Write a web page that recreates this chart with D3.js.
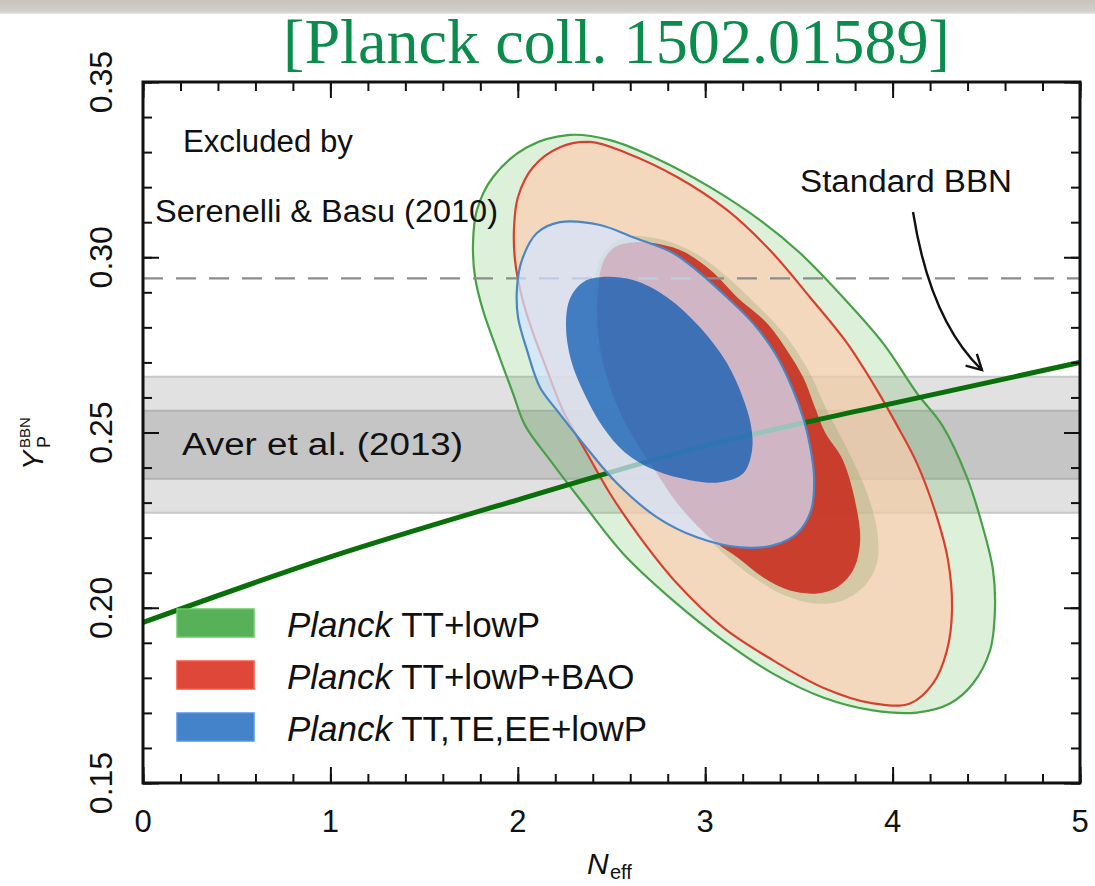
<!DOCTYPE html>
<html><head><meta charset="utf-8">
<script src="https://cdn.jsdelivr.net/npm/d3@7"></script>
<style>body{margin:0;background:#fff;} svg{display:block;}</style>
</head><body><svg id="c" width="1095" height="886"></svg>
<script>
// ---------------- data ----------------
const xDomain = [0, 5];
const yDomain = [0.15, 0.35];
const xTickValues = [0, 1, 2, 3, 4, 5];
const xTickLabels = ["0", "1", "2", "3", "4", "5"];
const yTickValues = [0.15, 0.20, 0.25, 0.30, 0.35];
const yTickLabels = ["0.15", "0.20", "0.25", "0.30", "0.35"];

// Aver et al. (2013): 1 sigma and 2 sigma bands
const averBand2 = [0.2271, 0.2659];
const averBand1 = [0.2368, 0.2562];
// Serenelli & Basu (2010) upper bound
const serenelliY = 0.294;

// Standard BBN prediction
const bbnN = [0, 1, 2, 3, 4, 5];
const bbnY = [0.1958, 0.2145, 0.2308, 0.2462, 0.2583, 0.2700];

// contours [Neff, Yp]
const green95 = [[2.279,0.3349],[2.492,0.3334],[2.759,0.3277],[3.026,0.3200],[3.292,0.3106],[3.506,0.3012],[3.735,0.2886],[3.949,0.2755],[4.130,0.2612],[4.264,0.2521],[4.397,0.2372],[4.482,0.2229],[4.536,0.2107],[4.546,0.1992],[4.520,0.1878],[4.429,0.1784],[4.306,0.1727],[4.130,0.1701],[3.895,0.1707],[3.629,0.1744],[3.362,0.1812],[3.095,0.1907],[2.828,0.2021],[2.561,0.2155],[2.348,0.2298],[2.172,0.2421],[2.038,0.2521],[1.974,0.2612],[1.889,0.2735],[1.814,0.2849],[1.772,0.2943],[1.761,0.3040],[1.782,0.3135],[1.868,0.3229],[2.049,0.3314]];
const green68 = [[2.470,0.3020],[2.572,0.3058],[2.732,0.3055],[2.919,0.3020],[3.106,0.2949],[3.266,0.2869],[3.426,0.2778],[3.549,0.2678],[3.650,0.2563],[3.762,0.2449],[3.858,0.2335],[3.917,0.2221],[3.917,0.2129],[3.853,0.2064],[3.735,0.2021],[3.586,0.2012],[3.426,0.2035],[3.266,0.2084],[3.116,0.2146],[2.988,0.2215],[2.866,0.2292],[2.748,0.2383],[2.631,0.2478],[2.535,0.2578],[2.460,0.2683],[2.417,0.2792],[2.405,0.2892],[2.425,0.2970]];
const red95 = [[2.385,0.3329],[2.583,0.3297],[2.850,0.3229],[3.116,0.3135],[3.346,0.3020],[3.559,0.2886],[3.757,0.2755],[3.917,0.2621],[4.023,0.2521],[4.130,0.2412],[4.237,0.2258],[4.296,0.2135],[4.317,0.1992],[4.290,0.1878],[4.216,0.1784],[4.093,0.1727],[3.895,0.1727],[3.629,0.1772],[3.362,0.1850],[3.095,0.1944],[2.850,0.2069],[2.652,0.2201],[2.492,0.2326],[2.369,0.2441],[2.241,0.2563],[2.156,0.2678],[2.076,0.2792],[2.022,0.2886],[1.985,0.2992],[1.980,0.3086],[2.001,0.3172],[2.081,0.3257],[2.225,0.3314]];
const red68 = [[2.519,0.3029],[2.625,0.3043],[2.759,0.3037],[2.892,0.3014],[3.042,0.2957],[3.170,0.2886],[3.330,0.2812],[3.436,0.2735],[3.522,0.2658],[3.580,0.2580],[3.640,0.2500],[3.735,0.2421],[3.810,0.2278],[3.826,0.2184],[3.789,0.2107],[3.703,0.2058],[3.597,0.2041],[3.452,0.2049],[3.308,0.2087],[3.170,0.2144],[3.063,0.2184],[2.956,0.2235],[2.839,0.2306],[2.732,0.2392],[2.625,0.2478],[2.529,0.2578],[2.465,0.2678],[2.430,0.2778],[2.425,0.2880],[2.455,0.2986]];
const blue95 = [[2.225,0.3100],[2.439,0.3092],[2.615,0.3057],[2.828,0.3012],[2.972,0.2955],[3.116,0.2886],[3.255,0.2812],[3.373,0.2726],[3.463,0.2629],[3.527,0.2535],[3.559,0.2463],[3.581,0.2372],[3.565,0.2278],[3.490,0.2212],[3.362,0.2178],[3.186,0.2172],[2.956,0.2201],[2.743,0.2258],[2.529,0.2355],[2.348,0.2469],[2.209,0.2563],[2.118,0.2629],[2.049,0.2735],[2.001,0.2829],[1.996,0.2915],[2.022,0.2992],[2.102,0.3069]];
const blue68 = [[2.439,0.2943],[2.615,0.2935],[2.796,0.2886],[2.972,0.2800],[3.116,0.2698],[3.202,0.2598],[3.244,0.2521],[3.250,0.2449],[3.202,0.2383],[3.079,0.2358],[2.919,0.2364],[2.732,0.2392],[2.572,0.2443],[2.455,0.2515],[2.359,0.2606],[2.284,0.2706],[2.257,0.2806],[2.279,0.2883],[2.348,0.2929]];

// legend
const legendItalic = ["Planck", "Planck", "Planck"];
const legendRest = [" TT+lowP", " TT+lowP+BAO", " TT,TE,EE+lowP"];
const legendColors = ["#58b058", "#df4838", "#4483c8"];

// annotations (text, Neff, Yp)
const annoText = ["Excluded by", "Serenelli & Basu (2010)", "Standard BBN", "Aver et al. (2013)"];
const annoN = [0.213, 0.064, 3.506, 0.208];
const annoY = [0.3300, 0.3100, 0.3186, 0.2435];
const annoWidth = [170, 343, 212, 281];
// arrow from label to BBN line: start, control, end
const arrowPts = [[4.109, 0.3129], [4.200, 0.2820], [4.477, 0.2678]];

const titleText = "[Planck coll. 1502.01589]";

// ---------------- drawing ----------------
const W = 1095, H = 886;
const L = 143, R = 1080, T = 82, B = 783;
const svg = d3.select("#c");
const x = d3.scaleLinear(xDomain, [L, R]);
const y = d3.scaleLinear(yDomain, [B, T]);

const defs = svg.append("defs");
const grad = defs.append("linearGradient").attr("id", "topg").attr("x1", 0).attr("y1", 0).attr("x2", 0).attr("y2", 1);
grad.append("stop").attr("offset", "0%").attr("stop-color", "#c7c3bf");
grad.append("stop").attr("offset", "80%").attr("stop-color", "#d2cfcb");
grad.append("stop").attr("offset", "100%").attr("stop-color", "#e9e8e6");
defs.append("clipPath").attr("id", "plotclip").append("rect")
  .attr("x", L).attr("y", T).attr("width", R - L).attr("height", B - T);

svg.append("rect").attr("width", W).attr("height", H).attr("fill", "#ffffff");
svg.append("rect").attr("width", W).attr("height", 14).attr("fill", "url(#topg)");

// title
svg.append("text").attr("x", 283).attr("y", 63)
  .attr("font-family", "Liberation Serif, serif").attr("font-size", 64)
  .attr("fill", "#0b8c4c").attr("textLength", 667).attr("lengthAdjust", "spacingAndGlyphs")
  .text(titleText);

const plot = svg.append("g").attr("clip-path", "url(#plotclip)");

// Aver bands
plot.append("rect").attr("x", x(0)).attr("width", x(5) - x(0))
  .attr("y", y(averBand2[1])).attr("height", y(averBand2[0]) - y(averBand2[1]))
  .attr("fill", "#e1e1e1").attr("stroke", "#c8c8c8").attr("stroke-width", 2);
plot.append("rect").attr("x", x(0)).attr("width", x(5) - x(0))
  .attr("y", y(averBand1[1])).attr("height", y(averBand1[0]) - y(averBand1[1]))
  .attr("fill", "#c5c5c5").attr("stroke", "#b3b3b3").attr("stroke-width", 2);

const contour = d3.line().x(d => x(d[0])).y(d => y(d[1])).curve(d3.curveCatmullRomClosed.alpha(0.5));

plot.append("path").attr("d", contour(green95)).attr("fill", "rgb(80,180,70)").attr("fill-opacity", 0.2);
plot.append("path").attr("d", contour(red95)).attr("fill", "rgb(255,205,175)").attr("fill-opacity", 0.68);
plot.append("path").attr("d", contour(green68)).attr("fill", "rgb(120,150,90)").attr("fill-opacity", 0.25);
plot.append("path").attr("d", contour(red68)).attr("fill", "rgb(200,50,35)").attr("fill-opacity", 0.92);
plot.append("path").attr("d", contour(green95)).attr("fill", "none").attr("stroke", "#48a048").attr("stroke-width", 2.2);
plot.append("path").attr("d", contour(red95)).attr("fill", "none").attr("stroke", "#d8402e").attr("stroke-width", 2.2);

// Serenelli dashed line
plot.append("line").attr("x1", x(0)).attr("x2", x(5)).attr("y1", y(serenelliY)).attr("y2", y(serenelliY))
  .attr("stroke", "#8c8c8c").attr("stroke-width", 2.2).attr("stroke-dasharray", "20,13");

// BBN line
const bbnLine = d3.line().x((d, i) => x(bbnN[i])).y(d => y(d)).curve(d3.curveMonotoneX);
plot.append("path").attr("d", bbnLine(bbnY)).attr("fill", "none").attr("stroke", "#0a6e0a").attr("stroke-width", 5);

plot.append("path").attr("d", contour(blue95)).attr("fill", "rgb(210,228,255)").attr("fill-opacity", 0.72);
plot.append("path").attr("d", contour(blue95)).attr("fill", "none").attr("stroke", "#4a86c6").attr("stroke-width", 2.2);
plot.append("path").attr("d", contour(blue68)).attr("fill", "rgb(0,82,175)").attr("fill-opacity", 0.7);

// annotations
annoText.forEach((t, i) => {
  svg.append("text").attr("x", x(annoN[i])).attr("y", y(annoY[i]))
    .attr("font-family", "Liberation Sans, Arial, sans-serif").attr("font-size", 31)
    .attr("fill", "#111").attr("textLength", annoWidth[i]).attr("lengthAdjust", "spacingAndGlyphs")
    .text(t);
});

// arrow
const ap = arrowPts.map(p => [x(p[0]), y(p[1])]);
const ctx = d3.path();
ctx.moveTo(ap[0][0], ap[0][1]);
ctx.quadraticCurveTo(ap[1][0], ap[1][1], ap[2][0], ap[2][1]);
svg.append("path").attr("d", ctx.toString()).attr("fill", "none").attr("stroke", "#111").attr("stroke-width", 2.4);
const ang = Math.atan2(ap[2][1] - ap[1][1], ap[2][0] - ap[1][0]);
const hl = 17, ha = 0.5;
const head = d3.path();
head.moveTo(ap[2][0] - hl * Math.cos(ang - ha), ap[2][1] - hl * Math.sin(ang - ha));
head.lineTo(ap[2][0], ap[2][1]);
head.lineTo(ap[2][0] - hl * Math.cos(ang + ha), ap[2][1] - hl * Math.sin(ang + ha));
svg.append("path").attr("d", head.toString()).attr("fill", "none").attr("stroke", "#111").attr("stroke-width", 2.4);

// legend
const legY = [609, 661, 713];
legendRest.forEach((t, i) => {
  svg.append("rect").attr("x", 177).attr("y", legY[i]).attr("width", 77).attr("height", 28)
    .attr("fill", legendColors[i]).attr("stroke", d3.color(legendColors[i]).brighter(0.4)).attr("stroke-width", 1.5);
  const tx = svg.append("text").attr("x", 287).attr("y", legY[i] + 28)
    .attr("font-family", "Liberation Sans, Arial, sans-serif").attr("font-size", 35).attr("fill", "#111");
  tx.append("tspan").attr("font-style", "italic").text(legendItalic[i]);
  tx.append("tspan").text(t);
});

// ticks
function styleAxis(g) {
  g.select(".domain").remove();
  g.selectAll(".tick line").attr("stroke", "#111").attr("stroke-width", 2);
  g.selectAll(".tick text").remove();
}
const xMinor = d3.range(0, 5.001, 0.2);
const yMinor = d3.range(0.15, 0.3501, 0.01);
svg.append("g").attr("transform", `translate(0,${B})`).call(d3.axisBottom(x).tickValues(xMinor).tickSize(-9)).call(styleAxis);
svg.append("g").attr("transform", `translate(0,${B})`).call(d3.axisBottom(x).tickValues(xTickValues).tickSize(-16)).call(styleAxis);
svg.append("g").attr("transform", `translate(0,${T})`).call(d3.axisTop(x).tickValues(xMinor).tickSize(-9)).call(styleAxis);
svg.append("g").attr("transform", `translate(0,${T})`).call(d3.axisTop(x).tickValues(xTickValues).tickSize(-16)).call(styleAxis);
svg.append("g").attr("transform", `translate(${L},0)`).call(d3.axisLeft(y).tickValues(yMinor).tickSize(-9)).call(styleAxis);
svg.append("g").attr("transform", `translate(${L},0)`).call(d3.axisLeft(y).tickValues(yTickValues).tickSize(-16)).call(styleAxis);
svg.append("g").attr("transform", `translate(${R},0)`).call(d3.axisRight(y).tickValues(yMinor).tickSize(-9)).call(styleAxis);
svg.append("g").attr("transform", `translate(${R},0)`).call(d3.axisRight(y).tickValues(yTickValues).tickSize(-16)).call(styleAxis);

// frame
svg.append("rect").attr("x", L).attr("y", T).attr("width", R - L).attr("height", B - T)
  .attr("fill", "none").attr("stroke", "#111").attr("stroke-width", 3);

// tick labels
xTickValues.forEach((v, i) => {
  svg.append("text").attr("x", x(v)).attr("y", 832).attr("text-anchor", "middle")
    .attr("font-family", "Liberation Sans, Arial, sans-serif").attr("font-size", 31).attr("fill", "#111")
    .text(xTickLabels[i]);
});
yTickValues.forEach((v, i) => {
  svg.append("text").attr("transform", `translate(112,${y(v)}) rotate(-90)`).attr("text-anchor", "middle")
    .attr("font-family", "Liberation Sans, Arial, sans-serif").attr("font-size", 32).attr("fill", "#111")
    .text(yTickLabels[i]);
});

// axis titles
const xl = svg.append("g").attr("transform", "translate(587,874)");
xl.append("text").attr("font-family", "Liberation Sans, Arial, sans-serif").attr("font-style", "italic")
  .attr("font-size", 30).attr("fill", "#111").text("N");
xl.append("text").attr("x", 23).attr("y", 5).attr("font-family", "Liberation Sans, Arial, sans-serif")
  .attr("font-size", 20).attr("fill", "#111").text("eff");

const yl = svg.append("g").attr("transform", "translate(43,470) rotate(-90)");
yl.append("text").attr("font-family", "Liberation Sans, Arial, sans-serif").attr("font-style", "italic")
  .attr("font-size", 29).attr("fill", "#111").text("Y");
yl.append("text").attr("x", 22).attr("y", 7).attr("font-family", "Liberation Sans, Arial, sans-serif")
  .attr("font-size", 18).attr("fill", "#111").text("P");
yl.append("text").attr("x", 22).attr("y", -13).attr("font-family", "Liberation Sans, Arial, sans-serif")
  .attr("font-size", 15).attr("fill", "#111").text("BBN");
</script>
</body></html>
